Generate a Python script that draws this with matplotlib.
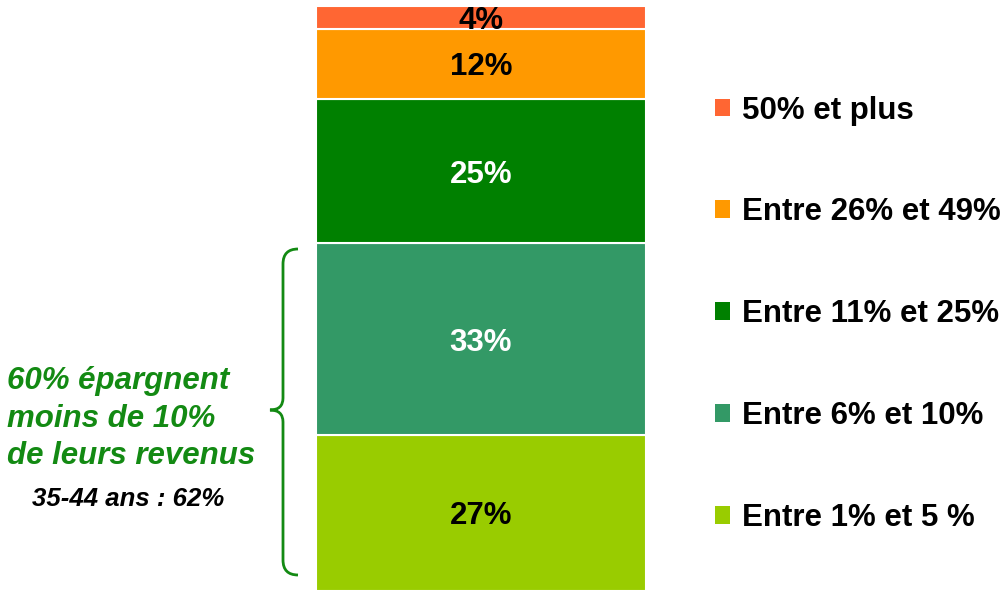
import matplotlib.pyplot as plt
from matplotlib.path import Path
from matplotlib.patches import PathPatch, Patch

plt.rcParams['font.family'] = ['Liberation Sans', 'DejaVu Sans']

# data, bottom to top
categories = ['Entre 1% et 5 %', 'Entre 6% et 10%', 'Entre 11% et 25%',
              'Entre 26% et 49%', '50% et plus']
values = [27, 33, 25, 12, 4]
colors = ['#99cc00', '#339966', '#008000', '#ff9900', '#ff6633']
text_colors = ['black', 'white', 'white', 'black', 'black']

W, H = 1007, 591
fig = plt.figure(figsize=(W / 100, H / 100), dpi=100)

# the stacked bar
ax = fig.add_axes([316 / W, 0, 330 / W, 585 / H])
bottom = 0
for v, c, tc in zip(values, colors, text_colors):
    ax.bar(0, v, bottom=bottom, width=1, color=c, edgecolor='white', linewidth=1.5)
    ax.text(0, bottom + v / 2, '%d%%' % v, ha='center', va='center_baseline',
            fontsize=22.5, fontweight='bold', color=tc)
    bottom += v
ax.set_xlim(-0.5, 0.5)
ax.set_ylim(0, sum(values))
ax.axis('off')

# legend on the right, top category first
handles = [Patch(facecolor=c, edgecolor='none') for c in colors][::-1]
fig.legend(handles, categories[::-1], loc='upper left',
           bbox_to_anchor=(702 / W, 1 - 83 / H), frameon=False,
           prop={'size': 22.5, 'weight': 'bold'},
           handlelength=0.5, handleheight=0.5, handletextpad=0.38,
           labelspacing=2.3, borderaxespad=0)

# overlay for the brace and annotation, pixel coords
ov = fig.add_axes([0, 0, 1, 1])
ov.set_xlim(0, W)
ov.set_ylim(H, 0)
ov.axis('off')

verts = [(298, 249), (283, 249), (283, 264),
         (283, 398),
         (283, 410), (270, 410),
         (283, 410), (283, 422),
         (283, 560),
         (283, 575), (298, 575)]
codes = [Path.MOVETO, Path.CURVE3, Path.CURVE3,
         Path.LINETO,
         Path.CURVE3, Path.CURVE3,
         Path.CURVE3, Path.CURVE3,
         Path.LINETO,
         Path.CURVE3, Path.CURVE3]
ov.add_patch(PathPatch(Path(verts, codes), facecolor='none',
                       edgecolor='#138a13', linewidth=2))

green_lines = ['60% épargnent', 'moins de 10%', 'de leurs revenus']
for i, s in enumerate(green_lines):
    ov.text(7, 378 + i * 37.5, s, ha='left', va='center_baseline', fontsize=22.5,
            fontweight='bold', style='italic', color='#138a13')
ov.text(128, 497, '35-44 ans : 62%', ha='center', va='center_baseline', fontsize=18.5,
        fontweight='bold', style='italic', color='black')

fig.savefig('out.png', dpi=100)
